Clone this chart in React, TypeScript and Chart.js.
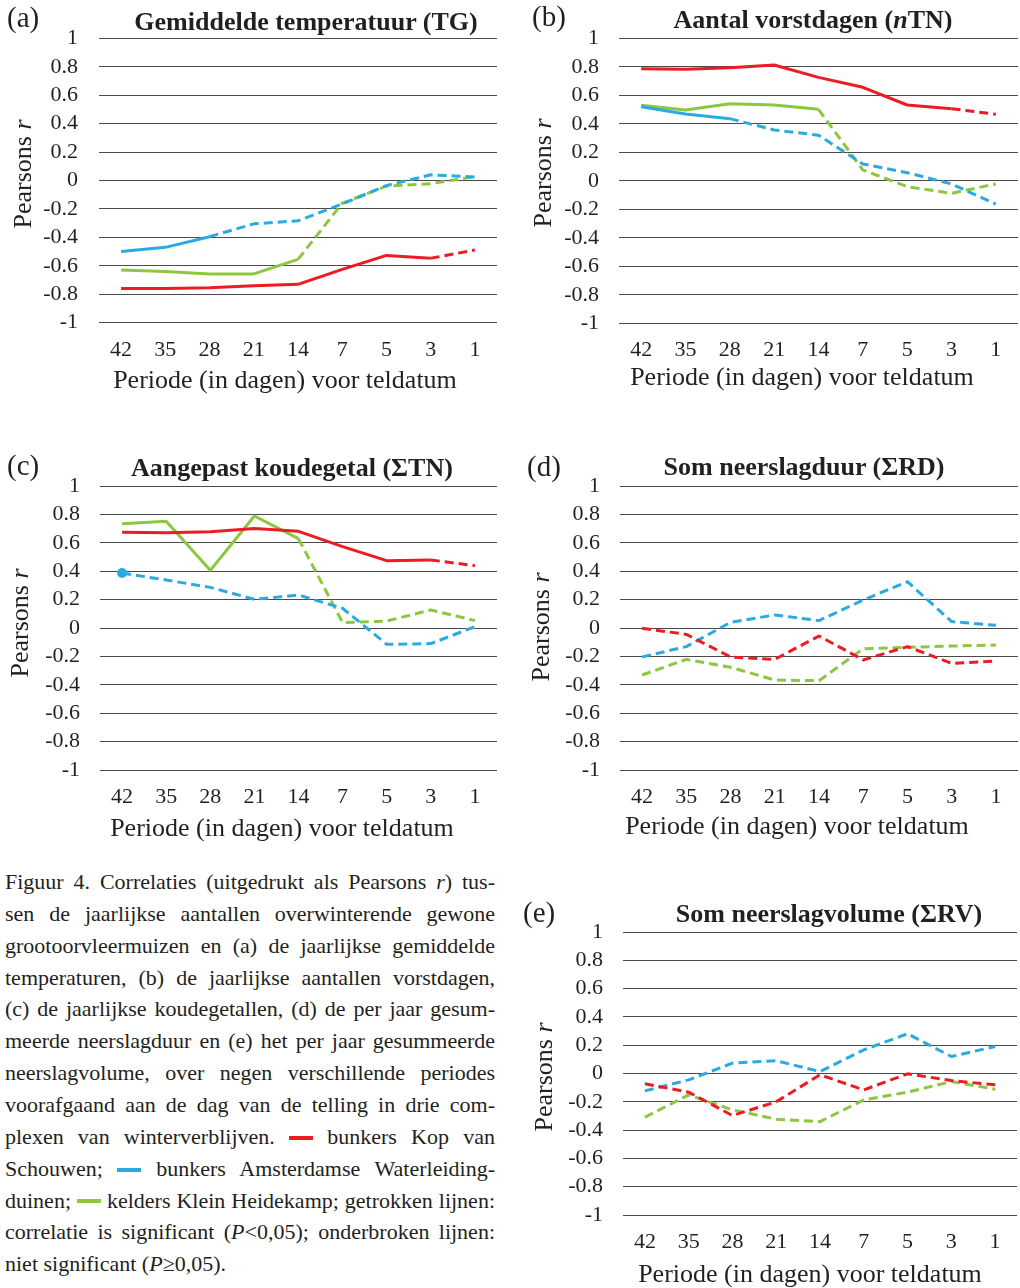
import React, { useEffect, useRef } from 'react';
import { Chart, registerables } from 'chart.js';

Chart.register(...registerables);

// ---------- data ----------
const periods = ['42', '35', '28', '21', '14', '7', '5', '3', '1'];

// (a) Gemiddelde temperatuur (TG)
const tgKop = [-0.76, -0.76, -0.755, -0.74, -0.73, -0.625, -0.527, -0.547, -0.489];
const tgAwd = [-0.5, -0.47, -0.395, -0.305, -0.283, -0.165, -0.036, 0.04, 0.025];
const tgKh = [-0.63, -0.64, -0.657, -0.657, -0.555, -0.16, -0.04, -0.022, 0.027];
const tgKopSig = [1, 1, 1, 1, 1, 1, 1, 1, 0];
const tgAwdSig = [1, 1, 1, 0, 0, 0, 0, 0, 0];
const tgKhSig = [1, 1, 1, 1, 1, 0, 0, 0, 0];

// (b) Aantal vorstdagen (nTN)
const ntnKop = [0.787, 0.782, 0.794, 0.813, 0.726, 0.656, 0.532, 0.506, 0.467];
const ntnAwd = [0.52, 0.469, 0.436, 0.357, 0.32, 0.118, 0.057, -0.022, -0.163];
const ntnKh = [0.53, 0.497, 0.541, 0.532, 0.502, 0.076, -0.041, -0.088, -0.022];
const ntnKopSig = [1, 1, 1, 1, 1, 1, 1, 1, 0];
const ntnAwdSig = [1, 1, 1, 0, 0, 0, 0, 0, 0];
const ntnKhSig = [1, 1, 1, 1, 1, 0, 0, 0, 0];

// (c) Aangepast koudegetal (ΣTN)
const stnKop = [0.674, 0.671, 0.678, 0.7, 0.681, 0.573, 0.474, 0.479, 0.439];
const stnAwd = [0.387, 0.338, 0.286, 0.202, 0.232, 0.139, -0.115, -0.11, 0.009];
const stnKh = [0.735, 0.751, 0.406, 0.789, 0.629, 0.038, 0.049, 0.127, 0.052];
const stnKopSig = [1, 1, 1, 1, 1, 1, 1, 1, 0];
const stnAwdSig = [1, 0, 0, 0, 0, 0, 0, 0, 0];
const stnKhSig = [1, 1, 1, 1, 1, 0, 0, 0, 0];

// (d) Som neerslagduur (ΣRD)
const rdKop = [-0.002, -0.045, -0.204, -0.221, -0.056, -0.225, -0.131, -0.249, -0.232];
const rdAwd = [-0.204, -0.131, 0.04, 0.092, 0.052, 0.197, 0.326, 0.045, 0.019];
const rdKh = [-0.331, -0.221, -0.277, -0.366, -0.371, -0.146, -0.136, -0.127, -0.12];
const rdKopSig = [0, 0, 0, 0, 0, 0, 0, 0, 0];
const rdAwdSig = [0, 0, 0, 0, 0, 0, 0, 0, 0];
const rdKhSig = [0, 0, 0, 0, 0, 0, 0, 0, 0];

// (e) Som neerslagvolume (ΣRV)
const rvKop = [-0.073, -0.132, -0.297, -0.2, -0.009, -0.116, -0.002, -0.05, -0.08];
const rvAwd = [-0.123, -0.045, 0.073, 0.09, 0.014, 0.167, 0.281, 0.12, 0.191];
const rvKh = [-0.309, -0.151, -0.257, -0.323, -0.34, -0.186, -0.132, -0.057, -0.111];
const rvKopSig = [0, 0, 0, 0, 0, 0, 0, 0, 0];
const rvAwdSig = [0, 0, 0, 0, 0, 0, 0, 0, 0];
const rvKhSig = [0, 0, 0, 0, 0, 0, 0, 0, 0];

const yMin = -1;
const yMax = 1;
const yStep = 0.2;

// ---------- styles ----------
const RED = '#ED1C24';
const BLUE = '#29ABE2';
const GREEN = '#8DC63F';
const INK = '#231f20';
const SERIF = '"Liberation Serif", "Times New Roman", serif';

type Geo = {
  L: number; R: number; T: number; B: number; tickRight: number; tickY: number;
  titleX: number; titleBase: number; letterX: number; letterBase: number;
  xTitleX: number; xTitleBase: number; yTitleBase: number; yTitleY: number;
};

type Series = { values: number[]; sig: number[]; color: string };

const panels: { letter: string; title: React.ReactNode; series: Series[]; g: Geo }[] = [
  {
    letter: '(a)',
    title: 'Gemiddelde temperatuur (TG)',
    series: [
      { values: tgKop, sig: tgKopSig, color: RED },
      { values: tgAwd, sig: tgAwdSig, color: BLUE },
      { values: tgKh, sig: tgKhSig, color: GREEN },
    ],
    g: { L: 99, R: 497, T: 38.3, B: 322.7, tickRight: 78, tickY: 350, titleX: 306, titleBase: 30.7, letterX: 7, letterBase: 27, xTitleX: 285, xTitleBase: 388.3, yTitleBase: 31.7, yTitleY: 173.7 },
  },
  {
    letter: '(b)',
    title: <>Aantal vorstdagen (<i>n</i>TN)</>,
    series: [
      { values: ntnKop, sig: ntnKopSig, color: RED },
      { values: ntnAwd, sig: ntnAwdSig, color: BLUE },
      { values: ntnKh, sig: ntnKhSig, color: GREEN },
    ],
    g: { L: 619, R: 1018, T: 38.3, B: 323.3, tickRight: 599, tickY: 350, titleX: 813, titleBase: 28.3, letterX: 532, letterBase: 26.7, xTitleX: 802, xTitleBase: 386, yTitleBase: 551.7, yTitleY: 173 },
  },
  {
    letter: '(c)',
    title: 'Aangepast koudegetal (ΣTN)',
    series: [
      { values: stnKop, sig: stnKopSig, color: RED },
      { values: stnAwd, sig: stnAwdSig, color: BLUE },
      { values: stnKh, sig: stnKhSig, color: GREEN },
    ],
    g: { L: 100, R: 500, T: 486, B: 770, tickRight: 80, tickY: 797, titleX: 292, titleBase: 476.7, letterX: 7, letterBase: 475.7, xTitleX: 282, xTitleBase: 836.7, yTitleBase: 28.3, yTitleY: 622.5 },
  },
  {
    letter: '(d)',
    title: 'Som neerslagduur (ΣRD)',
    series: [
      { values: rdKop, sig: rdKopSig, color: RED },
      { values: rdAwd, sig: rdAwdSig, color: BLUE },
      { values: rdKh, sig: rdKhSig, color: GREEN },
    ],
    g: { L: 620, R: 1018, T: 486, B: 770, tickRight: 600, tickY: 797, titleX: 804, titleBase: 475.7, letterX: 527, letterBase: 476.7, xTitleX: 797, xTitleBase: 835, yTitleBase: 549.3, yTitleY: 626.7 },
  },
  {
    letter: '(e)',
    title: 'Som neerslagvolume (ΣRV)',
    series: [
      { values: rvKop, sig: rvKopSig, color: RED },
      { values: rvAwd, sig: rvAwdSig, color: BLUE },
      { values: rvKh, sig: rvKhSig, color: GREEN },
    ],
    g: { L: 623, R: 1017, T: 932, B: 1215, tickRight: 603, tickY: 1242, titleX: 829, titleBase: 922.3, letterX: 523, letterBase: 922, xTitleX: 810, xTitleBase: 1283, yTitleBase: 552.7, yTitleY: 1076.7 },
  },
];

const fmt = (v: number) => String(Math.round(v * 10) / 10);

function Panel({ g, series, title, letter }: { g: Geo; series: Series[]; title: React.ReactNode; letter: string }) {
  const ref = useRef<HTMLCanvasElement>(null);
  const cx = g.L - 80;
  const cy = Math.round(g.T) - 40;
  const cw = g.R + 2 - cx;
  const ch = Math.round(g.B) + 45 - cy;

  useEffect(() => {
    if (!ref.current) return;
    const tickSize = 22;
    const lh = 1.2;
    const xPad = g.tickY - g.B - (tickSize * lh) / 2;
    const desiredTop = g.T - cy;
    const chart = new Chart(ref.current, {
      type: 'line',
      data: {
        labels: periods,
        datasets: series.map((s) => ({
          data: s.values,
          borderColor: s.color,
          backgroundColor: s.color,
          borderWidth: 3,
          fill: false,
          tension: 0,
          borderJoinStyle: 'round',
          pointRadius: (ctx: any) => {
            const i = ctx.dataIndex;
            const isolated = s.sig[i] === 1 && s.sig[i - 1] !== 1 && s.sig[i + 1] !== 1;
            return isolated ? 5 : 0;
          },
          pointBorderWidth: 0,
          pointHoverRadius: 0,
          segment: {
            borderDash: (ctx: any) =>
              s.sig[ctx.p0DataIndex] === 1 && s.sig[ctx.p1DataIndex] === 1 ? [] : [9, 5],
          },
        })),
      },
      options: {
        animation: false,
        responsive: false,
        devicePixelRatio: 1,
        events: [],
        layout: { padding: { top: desiredTop, right: cx + cw - g.R, left: 0, bottom: 0 } },
        plugins: { legend: { display: false }, tooltip: { enabled: false }, title: { display: false } },
        scales: {
          x: {
            type: 'category',
            offset: true,
            grid: { display: false, drawTicks: false },
            border: { display: false },
            ticks: {
              color: INK,
              padding: xPad,
              maxRotation: 0,
              autoSkip: false,
              font: { family: SERIF, size: tickSize, lineHeight: lh },
            },
            afterFit: (s: any) => { s.height = cy + ch - g.B; },
          },
          y: {
            min: yMin,
            max: yMax,
            grid: { color: '#4a4a4a', lineWidth: 1, drawTicks: false },
            border: { display: false },
            ticks: {
              stepSize: yStep,
              autoSkip: false,
              color: INK,
              padding: g.L - g.tickRight,
              font: { family: SERIF, size: tickSize, lineHeight: lh },
              callback: (v: any) => fmt(Number(v)),
            },
            afterFit: (s: any) => { s.width = g.L - cx; },
          },
        },
      } as any,
    });
    // align the plot area top with the reference
    for (let k = 0; k < 5; k++) {
      const err = chart.chartArea.top - desiredTop;
      if (Math.abs(err) < 0.2) break;
      const pad = (chart.options.layout as any).padding;
      pad.top = Math.max(0, pad.top - err);
      chart.update();
    }
    return () => chart.destroy();
  }, []);

  const fs = 26;
  const asc = 0.8375;
  const yCx = g.yTitleBase - asc * fs + fs / 2;
  return (
    <>
      <canvas
        ref={ref}
        width={cw}
        height={ch}
        style={{ position: 'absolute', left: cx, top: cy, width: cw, height: ch }}
      />
      <div style={{ position: 'absolute', left: g.letterX, top: g.letterBase - asc * 29, fontFamily: SERIF, fontSize: 29, lineHeight: 1, color: INK, whiteSpace: 'nowrap' }}>
        {letter}
      </div>
      <div style={{ position: 'absolute', left: g.titleX - 300, width: 600, top: g.titleBase - asc * fs, fontFamily: SERIF, fontSize: fs, fontWeight: 'bold', lineHeight: 1, textAlign: 'center', color: INK, whiteSpace: 'nowrap' }}>
        {title}
      </div>
      <div style={{ position: 'absolute', left: g.xTitleX - 300, width: 600, top: g.xTitleBase - asc * fs, fontFamily: SERIF, fontSize: fs, lineHeight: 1, textAlign: 'center', color: INK, whiteSpace: 'nowrap' }}>
        Periode (in dagen) voor teldatum
      </div>
      <div style={{ position: 'absolute', left: yCx - 100, top: g.yTitleY - fs / 2, width: 200, height: fs, fontFamily: SERIF, fontSize: fs, lineHeight: 1, textAlign: 'center', color: INK, whiteSpace: 'nowrap', transform: 'rotate(-90deg)', transformOrigin: 'center center' }}>
        Pearsons <i>r</i>
      </div>
    </>
  );
}

function Mark({ c }: { c: string }) {
  return <span style={{ display: 'inline-block', width: 24, height: 4, background: c, verticalAlign: 'middle', position: 'relative', top: -1 }} />;
}

const captionLines: React.ReactNode[] = [
  <>Figuur 4. Correlaties (uitgedrukt als Pearsons <i>r</i>) tus-</>,
  <>sen de jaarlijkse aantallen overwinterende gewone</>,
  <>grootoorvleermuizen en (a) de jaarlijkse gemiddelde</>,
  <>temperaturen, (b) de jaarlijkse aantallen vorstdagen,</>,
  <>(c) de jaarlijkse koudegetallen, (d) de per jaar gesum-</>,
  <>meerde neerslagduur en (e) het per jaar gesummeerde</>,
  <>neerslagvolume, over negen verschillende periodes</>,
  <>voorafgaand aan de dag van de telling in drie com-</>,
  <>plexen van winterverblijven. <Mark c={RED} /> bunkers Kop van</>,
  <>Schouwen; <Mark c={BLUE} /> bunkers Amsterdamse Waterleiding-</>,
  <>duinen; <Mark c={GREEN} /> kelders Klein Heidekamp; getrokken lijnen:</>,
  <>correlatie is significant (<i>P</i>&lt;0,05); onderbroken lijnen:</>,
  <>niet significant (<i>P</i>≥0,05).</>,
];

function Caption() {
  const lh = 31.87;
  const fs = 22;
  const top = 889.3 - ((lh - 1.107 * fs) / 2 + 0.891 * fs);
  return (
    <div style={{ position: 'absolute', left: 5, top, width: 490, fontFamily: SERIF, fontSize: fs, color: INK }}>
      {captionLines.map((ln, i) => (
        <div
          key={i}
          style={{
            height: lh,
            lineHeight: `${lh}px`,
            textAlign: 'justify',
            textAlignLast: i === captionLines.length - 1 ? 'left' : 'justify',
            whiteSpace: 'nowrap',
          } as any}
        >
          {ln}
        </div>
      ))}
    </div>
  );
}

export default function App() {
  return (
    <div style={{ position: 'absolute', left: 0, top: 0, width: 1020, height: 1288, background: '#fff', overflow: 'hidden' }}>
      {panels.map((p, i) => (
        <Panel key={i} g={p.g} series={p.series} title={p.title} letter={p.letter} />
      ))}
      <Caption />
    </div>
  );
}
